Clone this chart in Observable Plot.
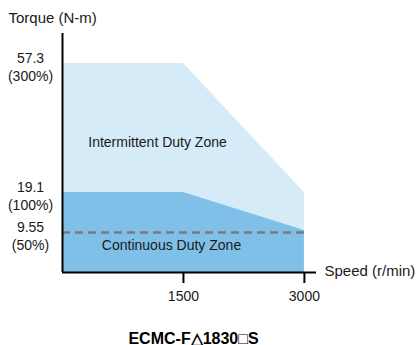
<!DOCTYPE html>
<html><head><meta charset="utf-8">
<script src="https://cdn.jsdelivr.net/npm/d3@7"></script>
<script src="https://cdn.jsdelivr.net/npm/@observablehq/plot@0.6"></script>
<style>body{margin:0;background:#fff;}svg{font-family:"Liberation Sans",Arial,sans-serif;}</style>
</head><body><div id="chart"></div>
<script>
const speed = [0, 1500, 3000];
const intermittent = [57.3, 57.3, 19.1];
const continuous = [19.1, 19.1, 10];
const ratedLine = 9.55;
const yTicks = [57.3, 19.1, 9.55];
const yTickLabels = ["57.3\n(300%)", "19.1\n(100%)", "9.55\n(50%)"];
const xTicks = [1500, 3000];

const inter = speed.map((s, i) => ({s, t: intermittent[i]}));
const cont = speed.map((s, i) => ({s, t: continuous[i]}));
const yt = yTicks.map((v, i) => ({v, label: yTickLabels[i]}));

// piecewise (non-uniform) torque axis as drawn in the original
const yWarp = d3.scaleLinear().domain([0, 19.1, 57.3, 66.2]).range([0, 80, 209, 239]);

const chart = Plot.plot({
  width: 417, height: 345,
  marginLeft: 62, marginRight: 101, marginTop: 33, marginBottom: 73,
  style: {fontFamily: '"Liberation Sans", Arial, sans-serif', fontSize: "14px", color: "#1a1a1a"},
  x: {domain: [0, 3150], axis: null},
  y: {transform: yWarp, domain: [0, 239], axis: null},
  marks: [
    Plot.areaY(inter, {x: "s", y: "t", fill: "#d5ebf8"}),
    Plot.areaY(cont, {x: "s", y: "t", fill: "#80bfe8"}),
    Plot.ruleY([ratedLine], {x1: 0, x2: 3000, stroke: "#7a7a7a", strokeWidth: 2.5, strokeDasharray: "8,5"}),
    Plot.ruleX([0], {y1: 0, y2: 66.2, stroke: "#000", strokeWidth: 2}),
    Plot.ruleY([0], {x1: 0, x2: 3150, stroke: "#000", strokeWidth: 2}),
    Plot.axisX({ticks: xTicks, tickFormat: d => String(d), tickSize: 11, tickPadding: 8, fontSize: 14, label: null, stroke: "#000", strokeWidth: 2, fill: "#1a1a1a"}),
    Plot.text(yt, {x: 0, y: "v", text: "label", dx: -32, dy: 3, textAnchor: "middle", lineHeight: 1.3, fontSize: 14, fill: "#1a1a1a"}),
    Plot.text(["Intermittent Duty Zone"], {x: 1178, y: 33.9, fontSize: 14, fill: "#1a1a1a"}),
    Plot.text(["Continuous Duty Zone"], {x: 1352, y: 6.45, fontSize: 14, fill: "#1a1a1a"}),
    Plot.text(["Torque (N-m)"], {frameAnchor: "top-left", dx: -54, dy: -15, textAnchor: "start", lineAnchor: "middle", fontSize: 15, fill: "#1a1a1a"}),
    Plot.text(["Speed (r/min)"], {x: 3150, y: 0, dx: 8, dy: -1, textAnchor: "start", fontSize: 15, fill: "#1a1a1a"}),
    Plot.text(["ECMC-F\u25B31830\u25A1S"], {frameAnchor: "bottom", dx: 4, dy: 71, fontSize: 16, fontWeight: "bold", fill: "#000"})
  ]
});
document.getElementById("chart").append(chart);
</script>
</body></html>
